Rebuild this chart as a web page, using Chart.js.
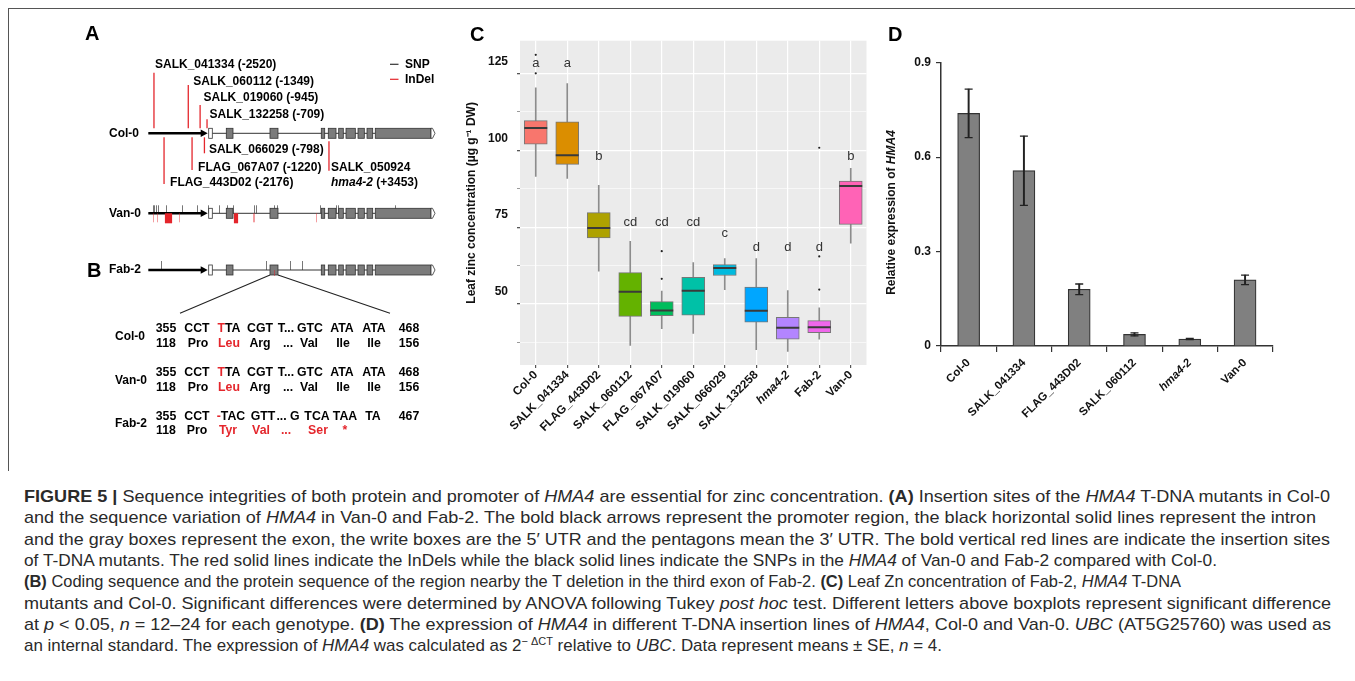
<!DOCTYPE html>
<html>
<head>
<meta charset="utf-8">
<script src="https://cdn.jsdelivr.net/npm/chart.js@4.4.1/dist/chart.umd.min.js"></script>
<style>
body { margin: 0; background: #fff; width: 1355px; height: 681px; overflow: hidden; position: relative; font-family: "Liberation Sans", Arial, sans-serif; }
canvas { position: absolute; }
.frame { position: absolute; left: 8px; top: 8px; width: 1400px; height: 462px; border-top: 1.5px solid #555; border-left: 1.5px solid #555; }
.plabel { position: absolute; font: bold 20px "Liberation Sans", Arial, sans-serif; line-height: 20px; color: #000; }
.cap { position: absolute; left: 24px; white-space: nowrap; font-size: 17px; line-height: 20px; color: #2a2a2a; transform-origin: 0 50%; }
.cap sup { font-size: 11px; line-height: 0; vertical-align: 6px; }
</style>
</head>
<body>
<div class="frame"></div>
<canvas id="geneChart" width="460" height="450" style="left:0;top:0"></canvas>
<canvas id="zincChart" width="420" height="430" style="left:460px;top:20px"></canvas>
<canvas id="exprChart" width="420" height="430" style="left:880px;top:20px"></canvas>
<div class="plabel" style="left:85px;top:23px">A</div>
<div class="plabel" style="left:87px;top:260px">B</div>
<div class="plabel" style="left:470px;top:24px">C</div>
<div class="plabel" style="left:888px;top:24px">D</div>
<div id="caption"></div>

<script>
// ---------- panel A / B : gene model (positions in bp, 0 = ATG) ----------
const promoter = [-2713, -686];
const utr5 = [-652, -529];
const exonStarts = [-51, 1440, 3191, 3430, 3785, 4034, 4444, 4751, 5034];
const exonEnds = [177, 1713, 3307, 3693, 3942, 4352, 4659, 4945, 6935];
const utr3 = [6935, 7072];

const tdnaLines = ["SALK_041334", "SALK_060112", "SALK_019060", "SALK_132258",
  "SALK_066029", "FLAG_067A07", "FLAG_443D02", "SALK_050924"];
const tdnaSites = [-2520, -1349, -945, -709, -798, -1220, -2176, 3453];

const vanSnps = [-2563, -2509, -2451, -2372, -2109, -1563, -1061, -666, -290, -17, 167,
  894, 952, 1587, 1669, 3147, 3683, 3771, 5717];
const vanIndels = [-2154, -2120, -2085, -2050, -2015, -1980, -1945, 212, 240, 270, 300];
const vanIndelsFaint = [-2563, -2406, -1666, 850, 904, 3020];
const fabSnps = [-2280, 1304, 2123, 2543];
const fabIndels = [1587];

// sequence comparison (B); {..} = red
const seqRows = ["Col-0", "Van-0", "Fab-2"];
const seqNt = [
  ["355", "CCT", "{T}TA", "CGT", "T...", "GTC", "ATA", "ATA", "468"],
  ["355", "CCT", "{T}TA", "CGT", "T...", "GTC", "ATA", "ATA", "468"],
  ["355", "CCT", "{-}TAC", "GTT", "... G", "TCA", "TAA", "TA", "467"]
];
const seqAa = [
  ["118", "Pro", "{Leu}", "Arg", "...", "Val", "Ile", "Ile", "156"],
  ["118", "Pro", "{Leu}", "Arg", "...", "Val", "Ile", "Ile", "156"],
  ["118", "Pro", "{Tyr}", "{Val}", "{...}", "{Ser}", "{*}"]
];

// ---------- panel C : leaf Zn boxplots ----------
const zincGenotypes = ["Col-0", "SALK_041334", "FLAG_443D02", "SALK_060112", "FLAG_067A07",
  "SALK_019060", "SALK_066029", "SALK_132258", "hma4-2", "Fab-2", "Van-0"];
const zincWhiskerLow = [91.5, 90.8, 60.7, 36.6, 42.0, 40.5, 54.7, 35.2, 34.6, 38.6, 69.8];
const zincQ1 = [102.0, 95.4, 71.5, 46.0, 46.2, 46.4, 59.3, 44.1, 38.6, 40.7, 75.9];
const zincMedian = [107.2, 98.4, 74.7, 54.0, 47.9, 54.3, 61.7, 47.8, 42.3, 42.5, 88.4];
const zincQ3 = [109.6, 109.2, 79.7, 60.2, 50.8, 58.7, 62.8, 55.5, 45.7, 44.6, 90.0];
const zincWhiskerHigh = [120.3, 121.7, 88.6, 70.4, 54.2, 63.5, 64.8, 64.8, 54.4, 48.8, 94.1];
const zincOutliers = [[125, 131], [], [], [], [58.2, 67.2], [], [], [], [], [54.7, 65.5, 100.8], []];
const zincLetters = ["a", "a", "b", "cd", "cd", "cd", "c", "d", "d", "d", "b"];
const zincLetterAt = [128.1, 128.1, 98.1, 76.6, 76.6, 76.6, 73.0, 68.5, 68.5, 68.5, 98.1];
const zincTicks = [37.5, 50, 62.5, 75, 87.5, 100, 112.5, 125];

// ---------- panel D : HMA4 expression ----------
const exprGenotypes = ["Col-0", "SALK_041334", "FLAG_443D02", "SALK_060112", "hma4-2", "Van-0"];
const exprMean = [0.739, 0.557, 0.180, 0.037, 0.022, 0.210];
const exprSE = [0.077, 0.110, 0.017, 0.005, 0.002, 0.015];
const exprTicks = [0, 0.3, 0.6, 0.9];

const FONT = '"Liberation Sans", Arial, sans-serif';
const RED = "#e4262c";
const hueColors = ["#F8766D", "#DB8E00", "#AEA200", "#64B200", "#00BD5C", "#00C1A7",
  "#00BADE", "#00A6FF", "#B385FF", "#EF67EB", "#FF63B6"];

/* draw "ab{c}d" with {..} parts red, centred on x */
function richText(ctx, str, x, y, align) {
  const parts = str.split(/(\{[^}]*\})/).filter(p => p !== "");
  const segs = parts.map(p => p[0] === "{" ? { t: p.slice(1, -1), c: RED } : { t: p, c: "#000" });
  const w = segs.reduce((s, g) => s + ctx.measureText(g.t).width, 0);
  let cx = align === "left" ? x : x - w / 2;
  ctx.textAlign = "left";
  segs.forEach(g => { ctx.fillStyle = g.c; ctx.fillText(g.t, cx, y); cx += ctx.measureText(g.t).width; });
}

/* gene diagram layout (pixel rows) */
const rowY = { "Col-0": 133.3, "Van-0": 213.3, "Fab-2": 270 };
const tdnaLayout = [
  { side: -1, end: 72.7, ly: 65, dx: 1 },
  { side: -1, end: 85, ly: 81.7, dx: 5 },
  { side: -1, end: 105, ly: 97.3, dx: 3.5 },
  { side: -1, end: 119.3, ly: 115, dx: 2.5 },
  { side: 1, end: 153.3, ly: 150, dx: 4.5 },
  { side: 1, end: 170, ly: 167.3, dx: 6 },
  { side: 1, end: 184, ly: 182.7, dx: 6 },
  { side: 1, end: 170.7, ly: 167.3, dx: 2 }
];
const seqNtX = [[166, 197, 229, 260, 286, 310, 342, 374, 409], [166, 197, 229, 260, 286, 310, 342, 374, 409],
  [166, 197, 231, 263, 288, 317, 345, 373, 409]];
const seqAaX = [[166, 198, 229, 260, 288, 309, 343, 374, 409], [166, 198, 229, 260, 288, 309, 343, 374, 409],
  [166, 197, 228, 261, 286, 318, 345]];
const seqY = [[328.3, 344, 336.7], [372.7, 387.3, 380.7], [416.7, 430.7, 423.3]];

const genePlugin = {
  id: "gene",
  afterDraw(chart) {
    const ctx = chart.ctx, xs = chart.scales.x, ys = chart.scales.y;
    const xp = v => xs.getPixelForValue(v);
    const yp = v => ys.getPixelForValue(v);
    ctx.save();
    ctx.textBaseline = "middle";

    function model(y) {
      // intron line
      ctx.strokeStyle = "#333"; ctx.lineWidth = 1;
      ctx.beginPath(); ctx.moveTo(xp(utr5[1]), y); ctx.lineTo(xp(exonStarts[exonStarts.length - 1]), y); ctx.stroke();
      // promoter arrow
      const a0 = xp(promoter[0]), a1 = xp(promoter[1]);
      ctx.strokeStyle = "#000"; ctx.lineWidth = 2.6;
      ctx.beginPath(); ctx.moveTo(a0, y); ctx.lineTo(a1 - 5, y); ctx.stroke();
      ctx.fillStyle = "#000";
      ctx.beginPath(); ctx.moveTo(a1, y); ctx.lineTo(a1 - 7, y - 3.8); ctx.lineTo(a1 - 7, y + 3.8); ctx.closePath(); ctx.fill();
      ctx.lineWidth = 0.8; ctx.strokeStyle = "#333";
      // 5' UTR
      ctx.fillStyle = "#fff";
      ctx.fillRect(xp(utr5[0]), y - 5, xp(utr5[1]) - xp(utr5[0]), 10);
      ctx.strokeRect(xp(utr5[0]), y - 5, xp(utr5[1]) - xp(utr5[0]), 10);
      // exons
      ctx.fillStyle = "#7b7b7b";
      exonStarts.forEach((s, i) => {
        const x0 = xp(s), w = xp(exonEnds[i]) - x0;
        ctx.fillRect(x0, y - 5, w, 10); ctx.strokeRect(x0, y - 5, w, 10);
      });
      // 3' UTR pentagon tip
      const t0 = xp(utr3[0]), t1 = xp(utr3[1]);
      ctx.fillStyle = "#fff";
      ctx.beginPath(); ctx.moveTo(t0, y - 5); ctx.lineTo(t1 - 2.5, y - 5); ctx.lineTo(t1, y);
      ctx.lineTo(t1 - 2.5, y + 5); ctx.lineTo(t0, y + 5); ctx.closePath(); ctx.fill(); ctx.stroke();
    }
    function ticks(list, y, up, len, color, lw) {
      ctx.strokeStyle = color; ctx.lineWidth = lw;
      list.forEach(p => {
        const x = Math.round(xp(p)) + 0.5;
        ctx.beginPath(); ctx.moveTo(x, up ? y - len : y); ctx.lineTo(x, up ? y : y + len); ctx.stroke();
      });
    }

    // rows
    ctx.font = "bold 12px " + FONT;
    Object.keys(rowY).forEach(name => {
      const y = yp(rowY[name]);
      if (name === "Van-0") { ticks(vanSnps, y, true, 8, "#777", 1); }
      if (name === "Fab-2") { ticks(fabSnps, y, true, 9, "#777", 1); }
      model(y);
      if (name === "Van-0") { ticks(vanIndelsFaint, y, false, 9, "rgba(228,38,44,0.45)", 1); ticks(vanIndels, y, false, 10, RED, 1.2); }
      if (name === "Fab-2") { ticks(fabIndels, y, false, 6, "rgba(228,38,44,0.5)", 1); }
      ctx.fillStyle = "#000"; ctx.textAlign = "left";
      ctx.fillText(name, 109, y);
    });

    // T-DNA insertion sites on Col-0
    const yc = yp(rowY["Col-0"]);
    tdnaLines.forEach((id, i) => {
      const L = tdnaLayout[i], x = xp(tdnaSites[i]);
      ctx.strokeStyle = RED; ctx.lineWidth = 1.3;
      ctx.beginPath();
      ctx.moveTo(x, L.side < 0 ? yc - 5 : yc + (i === 7 ? 8 : 4));
      ctx.lineTo(x, yp(L.end)); ctx.stroke();
      ctx.fillStyle = "#000"; ctx.textAlign = "left";
      const pos = tdnaSites[i] > 0 ? "+" + tdnaSites[i] : String(tdnaSites[i]);
      if (i === 7) {
        ctx.fillText(id, x + L.dx, yp(L.ly));
        ctx.font = "italic bold 12px " + FONT;
        ctx.fillText("hma4-2", x + L.dx, yp(L.ly) + 15.4);
        const w = ctx.measureText("hma4-2 ").width;
        ctx.font = "bold 12px " + FONT;
        ctx.fillText("(" + pos + ")", x + L.dx + w, yp(L.ly) + 15.4);
      } else {
        ctx.fillText(id + " (" + pos + ")", x + L.dx, yp(L.ly));
      }
    });

    // legend
    ctx.lineWidth = 1.2;
    ctx.strokeStyle = "#333"; ctx.beginPath(); ctx.moveTo(390, yp(64.3)); ctx.lineTo(398.5, yp(64.3)); ctx.stroke();
    ctx.strokeStyle = RED; ctx.beginPath(); ctx.moveTo(390, yp(79.3)); ctx.lineTo(398.5, yp(79.3)); ctx.stroke();
    ctx.fillStyle = "#000";
    ctx.fillText("SNP", 405, yp(64.3));
    ctx.fillText("InDel", 405, yp(79.3));

    // zoom lines from the T-deletion exon of Fab-2
    const yf = yp(rowY["Fab-2"]) + 5;
    ctx.strokeStyle = "#222"; ctx.lineWidth = 1.1;
    ctx.beginPath(); ctx.moveTo(xp(exonStarts[1]), yf); ctx.lineTo(180, yp(313.3));
    ctx.moveTo(xp(exonEnds[1]), yf); ctx.lineTo(390, yp(313.3)); ctx.stroke();

    // sequence block
    seqRows.forEach((name, r) => {
      ctx.font = "bold 12px " + FONT;
      ctx.fillStyle = "#000"; ctx.textAlign = "left";
      ctx.fillText(name, 115, yp(seqY[r][2]));
      ctx.font = "bold 12.3px " + FONT;
      seqNt[r].forEach((s, c) => richText(ctx, s, seqNtX[r][c], yp(seqY[r][0]), "center"));
      seqAa[r].forEach((s, c) => richText(ctx, s, seqAaX[r][c], yp(seqY[r][1]), "center"));
    });
    ctx.restore();
  }
};

new Chart(document.getElementById("geneChart"), {
  type: "scatter",
  data: { datasets: [] },
  options: {
    responsive: false, animation: false,
    layout: { padding: 0 },
    plugins: { legend: { display: false }, tooltip: { enabled: false } },
    scales: {
      x: { type: "linear", display: false, min: -7775, max: 7925 },
      y: { type: "linear", display: false, min: 0, max: 450, reverse: true }
    }
  },
  plugins: [genePlugin]
});

// ---------- C ----------
const panelBg = {
  id: "panelBg",
  beforeDraw(chart) {
    const a = chart.chartArea, ctx = chart.ctx;
    ctx.save(); ctx.fillStyle = "#EBEBEB";
    ctx.fillRect(a.left, a.top, a.right - a.left, a.bottom - a.top); ctx.restore();
  }
};
const letterPlugin = {
  id: "letters",
  afterDatasetsDraw(chart) {
    const ctx = chart.ctx, xs = chart.scales.x, ys = chart.scales.y;
    ctx.save();
    ctx.font = "13px " + FONT; ctx.fillStyle = "#333";
    ctx.textAlign = "center"; ctx.textBaseline = "middle";
    zincLetters.forEach((l, i) => ctx.fillText(l, xs.getPixelForValue(i), ys.getPixelForValue(zincLetterAt[i])));
    ctx.restore();
  }
};

const outlierPoints = [];
zincOutliers.forEach((list, i) => list.forEach(v => outlierPoints.push({ x: zincGenotypes[i], y: v })));

new Chart(document.getElementById("zincChart"), {
  type: "bar",
  data: {
    labels: zincGenotypes,
    datasets: [
      {
        type: "line", data: zincMedian, showLine: false, pointStyle: "line",
        pointRadius: 11.5, pointBorderWidth: 2, pointBorderColor: "#3a3a3a", order: 1
      },
      {
        type: "line", data: outlierPoints, showLine: false, pointRadius: 1.1,
        pointBackgroundColor: "#222", pointBorderWidth: 0, order: 1
      },
      {
        data: zincQ1.map((q, i) => [q, zincQ3[i]]), backgroundColor: hueColors,
        borderColor: "#777", borderWidth: 1, borderSkipped: false, barThickness: 23, grouped: false, order: 2
      },
      {
        data: zincWhiskerLow.map((w, i) => [w, zincWhiskerHigh[i]]), backgroundColor: "#8c8c8c",
        barThickness: 1, grouped: false, order: 3
      }
    ]
  },
  options: {
    responsive: false, animation: false,
    layout: { padding: { top: 20.7, right: 13, left: 0, bottom: 0 } },
    plugins: { legend: { display: false }, tooltip: { enabled: false } },
    scales: {
      x: {
        offset: true,
        grid: { color: "#fff", lineWidth: 1.2, offset: false, tickColor: "#555", tickLength: 3 },
        border: { display: false },
        ticks: {
          minRotation: 45, maxRotation: 45, padding: 0, color: "#111",
          font: c => ({ family: FONT, size: 11.8, weight: "bold", style: zincGenotypes[c.index] === "hma4-2" ? "italic" : "normal" })
        },
        afterFit: s => { s.height = 85; }
      },
      y: {
        min: 30.2, max: 135.6,
        afterBuildTicks: s => { s.ticks = zincTicks.map(v => ({ value: v })); },
        grid: {
          color: "#fff", tickColor: "#555", tickLength: 3,
          lineWidth: c => (c.tick && c.tick.value % 25 === 0 ? 1.3 : 0.6)
        },
        border: { display: false },
        ticks: {
          callback: v => (v % 25 === 0 ? v : ""), padding: 9, labelOffset: -12,
          color: "#111", font: { family: FONT, size: 12, weight: "bold" }
        },
        title: {
          display: true, text: "Leaf zinc concentration (µg g⁻¹ DW)", color: "#111",
          font: { family: FONT, size: 12, weight: "bold" }, padding: { top: 4, bottom: 0 }
        },
        afterFit: s => { s.width = 60; }
      }
    }
  },
  plugins: [panelBg, letterPlugin]
});

// ---------- D ----------
const exprTitle = {
  id: "exprTitle",
  afterDraw(chart) {
    const ctx = chart.ctx;
    ctx.save();
    ctx.translate(12, 192.5); ctx.rotate(-Math.PI / 2);
    ctx.textBaseline = "middle"; ctx.textAlign = "left"; ctx.fillStyle = "#111";
    ctx.font = "bold 12px " + FONT;
    const a = "Relative expression of ", wa = ctx.measureText(a).width;
    ctx.font = "italic bold 12px " + FONT;
    const wb = ctx.measureText("HMA4").width;
    ctx.font = "bold 12px " + FONT;
    ctx.fillText(a, -(wa + wb) / 2, 0);
    ctx.font = "italic bold 12px " + FONT;
    ctx.fillText("HMA4", -(wa + wb) / 2 + wa, 0);
    ctx.restore();
  }
};

new Chart(document.getElementById("exprChart"), {
  type: "bar",
  data: {
    labels: exprGenotypes,
    datasets: [
      {
        data: exprMean, backgroundColor: "#808080", borderColor: "#333", borderWidth: 1.2,
        borderSkipped: "bottom", barThickness: 22, grouped: false, order: 3
      },
      {
        data: exprMean.map((m, i) => [m - exprSE[i], m + exprSE[i]]), backgroundColor: "#222",
        barThickness: 1.3, grouped: false, order: 1
      },
      {
        type: "line", data: exprMean.map((m, i) => m + exprSE[i]), showLine: false, pointStyle: "line",
        pointRadius: 4, pointBorderWidth: 1.3, pointBorderColor: "#222", order: 0
      },
      {
        type: "line", data: exprMean.map((m, i) => m - exprSE[i]), showLine: false, pointStyle: "line",
        pointRadius: 4, pointBorderWidth: 1.3, pointBorderColor: "#222", order: 0
      }
    ]
  },
  options: {
    responsive: false, animation: false,
    layout: { padding: { top: 42.7, right: 27.3, left: 0, bottom: 0 } },
    plugins: { legend: { display: false }, tooltip: { enabled: false } },
    scales: {
      x: {
        offset: true,
        grid: { offset: true, drawOnChartArea: false, tickLength: 6, color: "#333", lineWidth: 1.2 },
        border: { display: true, color: "#333", width: 1.5 },
        ticks: {
          minRotation: 45, maxRotation: 45, padding: 4, color: "#111",
          font: c => ({ family: FONT, size: 11.5, weight: "bold", style: exprGenotypes[c.index] === "hma4-2" ? "italic" : "normal" })
        },
        afterFit: s => { s.height = 104; }
      },
      y: {
        min: 0, max: 0.9,
        afterBuildTicks: s => { s.ticks = exprTicks.map(v => ({ value: v })); },
        grid: { drawOnChartArea: false, tickLength: 5, color: "#333", lineWidth: 1.2 },
        border: { display: true, color: "#333", width: 1.5 },
        ticks: {
          callback: v => (v === 0 ? "0" : v.toFixed(1)), padding: 5, color: "#111",
          font: { family: FONT, size: 12, weight: "bold" }
        },
        afterFit: s => { s.width = 61; }
      }
    }
  },
  plugins: [exprTitle]
});

// ---------- caption ----------
const captionLines = [
  '<b>FIGURE 5 |</b> Sequence integrities of both protein and promoter of <i>HMA4</i> are essential for zinc concentration. <b>(A)</b> Insertion sites of the <i>HMA4</i> T-DNA mutants in Col-0',
  'and the sequence variation of <i>HMA4</i> in Van-0 and Fab-2. The bold black arrows represent the promoter region, the black horizontal solid lines represent the intron',
  'and the gray boxes represent the exon, the write boxes are the 5\u2032 UTR and the pentagons mean the 3\u2032 UTR. The bold vertical red lines are indicate the insertion sites',
  'of T-DNA mutants. The red solid lines indicate the InDels while the black solid lines indicate the SNPs in the <i>HMA4</i> of Van-0 and Fab-2 compared with Col-0.',
  '<b>(B)</b> Coding sequence and the protein sequence of the region nearby the T deletion in the third exon of Fab-2. <b>(C)</b> Leaf Zn concentration of Fab-2, <i>HMA4</i> T-DNA',
  'mutants and Col-0. Significant differences were determined by ANOVA following Tukey <i>post hoc</i> test. Different letters above boxplots represent significant difference',
  'at <i>p</i> &lt; 0.05, <i>n</i> = 12\u201324 for each genotype. <b>(D)</b> The expression of <i>HMA4</i> in different T-DNA insertion lines of <i>HMA4</i>, Col-0 and Van-0. <i>UBC</i> (AT5G25760) was used as',
  'an internal standard. The expression of <i>HMA4</i> was calculated as 2<sup>\u2212 \u0394CT</sup> relative to <i>UBC</i>. Data represent means \u00b1 SE, <i>n</i> = 4.'
];
const captionRight = [1330, 1316, 1330, 1217, 1181, 1331, 1331, 942];
const cap = document.getElementById("caption");
captionLines.forEach((html, i) => {
  const d = document.createElement("div");
  d.className = "cap";
  d.style.top = (487 + 21.3 * i) + "px";
  d.innerHTML = html;
  cap.appendChild(d);
  const w = d.getBoundingClientRect().width;
  d.style.transform = "scaleX(" + ((captionRight[i] - 24) / w).toFixed(4) + ")";
});
</script>
</body>
</html>
